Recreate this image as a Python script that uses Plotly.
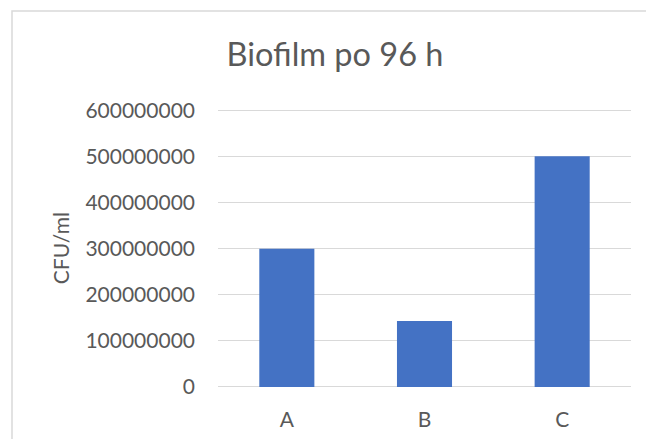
import plotly.graph_objects as go

# Biofilm counts after 96 h per sample
categories = ["A", "B", "C"]
cfu_values = [300000000, 143500000, 501000000]
y_ticks = [0, 100000000, 200000000, 300000000, 400000000, 500000000, 600000000]
y_tick_labels = [str(v) for v in y_ticks]

W, H = 648, 441
Y_MAX = 603000000          # small headroom so the 600000000 gridline is drawn
ZERO_PX, TOP_TICK_PX = 387, 110.7
px_per_unit = (ZERO_PX - TOP_TICK_PX) / 600000000
PLOT_LEFT, PLOT_RIGHT = 218, 631
PLOT_TOP = ZERO_PX - Y_MAX * px_per_unit

TEXT = "#595959"
GRID = "#D9D9D9"
BAR = "#4472C4"
FONT = "Lato, 'Open Sans', sans-serif"

fig = go.Figure(
    go.Bar(
        x=categories,
        y=cfu_values,
        marker=dict(color=BAR, line=dict(width=0)),
        hoverinfo="x+y",
    )
)

# chart-area frame on a full-page helper subplot (left and top edges only)
fig.add_trace(go.Scatter(
    x=[12, 12, W - 2],
    y=[H - 2, 11, 11],
    xaxis="x2", yaxis="y2", mode="lines",
    line=dict(color=GRID, width=1.5),
    hoverinfo="skip",
))

fig.update_layout(
    width=W,
    height=H,
    margin=dict(l=0, r=0, t=0, b=0, pad=0),
    paper_bgcolor="white",
    plot_bgcolor="rgba(0,0,0,0)",
    bargap=0.6,
    showlegend=False,
    font=dict(family=FONT, color=TEXT, size=21),
    title=dict(
        text="Biofilm po 96 h",
        font=dict(family=FONT, size=32.5, color=TEXT),
        xref="container", yref="container",
        x=335 / W, xanchor="center",
        y=1 - 55 / H, yanchor="middle",
    ),
    xaxis=dict(
        domain=[PLOT_LEFT / W, PLOT_RIGHT / W],
        anchor="y",
        showgrid=False,
        showline=False,
        zeroline=False,
        ticks="",
        ticklabelstandoff=18,
        automargin=False,
        tickfont=dict(family=FONT, size=21, color=TEXT),
    ),
    yaxis=dict(
        domain=[1 - ZERO_PX / H, 1 - PLOT_TOP / H],
        anchor="x",
        range=[0, Y_MAX],
        tickvals=y_ticks,
        ticktext=y_tick_labels,
        showgrid=True,
        gridcolor=GRID,
        gridwidth=1.3,
        zeroline=True,
        zerolinecolor=GRID,
        zerolinewidth=1.3,
        showline=False,
        ticks="",
        ticklabelstandoff=22,
        automargin=False,
        tickfont=dict(family=FONT, size=21, color=TEXT),
        title=dict(
            text="CFU/ml",
            font=dict(family=FONT, size=21, color=TEXT),
            standoff=10,
        ),
    ),
    # helper axes in page pixels (y downward), hidden
    xaxis2=dict(domain=[0, 1], anchor="y2", range=[0, W], visible=False,
                fixedrange=True),
    yaxis2=dict(domain=[0, 1], anchor="x2", range=[H, 0], visible=False,
                fixedrange=True),
)

fig.write_html("out.html", config={"displayModeBar": False})
